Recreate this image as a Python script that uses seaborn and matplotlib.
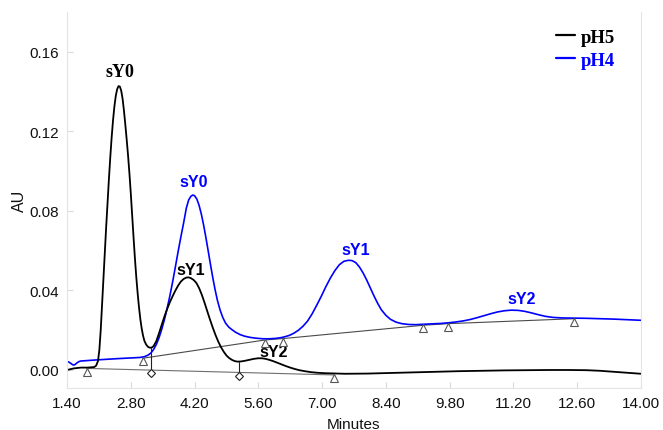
import numpy as np
import pandas as pd
import matplotlib
matplotlib.use("Agg")
import matplotlib.pyplot as plt
import seaborn as sns
from matplotlib.ticker import MultipleLocator, FormatStrFormatter, FixedLocator
from matplotlib.transforms import offset_copy
from matplotlib.lines import Line2D

# ---------------- data ----------------
ph5_min = [1.40, 1.55, 1.70, 1.85, 2.00, 2.04, 2.08, 2.11, 2.14, 2.17, 2.20, 2.23, 2.26,
           2.29, 2.32, 2.35, 2.38, 2.41, 2.44, 2.47, 2.50, 2.53, 2.56, 2.59, 2.62, 2.65,
           2.68, 2.71, 2.74, 2.77, 2.80, 2.83, 2.86, 2.89, 2.92, 2.95, 2.98, 3.01, 3.04,
           3.07, 3.10, 3.14, 3.18, 3.22, 3.26, 3.30, 3.36, 3.42, 3.48, 3.54, 3.60, 3.66,
           3.72, 3.78, 3.84, 3.90, 3.96, 4.02, 4.07, 4.12, 4.18, 4.24, 4.30, 4.36, 4.42,
           4.48, 4.54, 4.60, 4.66, 4.72, 4.78, 4.84, 4.90, 4.96, 5.02, 5.08, 5.14, 5.22,
           5.30, 5.40, 5.50, 5.60, 5.68, 5.76, 5.84, 5.92, 6.00, 6.10, 6.20, 6.30, 6.40,
           6.50, 6.62, 6.76, 6.90, 7.05, 7.20, 7.50, 8.00, 8.50, 9.00, 9.50, 10.00, 10.50,
           11.00, 11.50, 12.00, 12.40, 12.80, 13.10, 13.40, 13.70, 14.00]
ph5_au = [0.0000, 0.0008, 0.0012, 0.0012, 0.0015, 0.0022, 0.0045, 0.0100, 0.0200, 0.0330,
          0.0460, 0.0590, 0.0720, 0.0840, 0.0960, 0.1070, 0.1170, 0.1255, 0.1325, 0.1378,
          0.1412, 0.1428, 0.1426, 0.1405, 0.1365, 0.1305, 0.1235, 0.1160, 0.1080, 0.0990,
          0.0890, 0.0780, 0.0670, 0.0565, 0.0470, 0.0388, 0.0316, 0.0256, 0.0208, 0.0172,
          0.0146, 0.0127, 0.0116, 0.0112, 0.0113, 0.0120, 0.0145, 0.0185, 0.0228, 0.0270,
          0.0308, 0.0342, 0.0372, 0.0400, 0.0425, 0.0445, 0.0458, 0.0465, 0.0466, 0.0462,
          0.0453, 0.0438, 0.0412, 0.0378, 0.0338, 0.0295, 0.0253, 0.0213, 0.0176, 0.0143,
          0.0115, 0.0092, 0.0073, 0.0060, 0.0051, 0.0045, 0.0042, 0.0043, 0.0046, 0.0051,
          0.0056, 0.0059, 0.0059, 0.0056, 0.0051, 0.0045, 0.0038, 0.0029, 0.0020, 0.0012,
          0.0005, -0.0001, -0.0006, -0.0011, -0.0014, -0.0016, -0.0017, -0.0019, -0.0018,
          -0.0015, -0.0012, -0.0009, -0.0006, -0.0004, -0.0002, -0.0001, 0.0000, 0.0000,
          -0.0001, -0.0004, -0.0009, -0.0014, -0.0019]

ph4_min = [1.40, 1.44, 1.48, 1.52, 1.55, 1.58, 1.62, 1.66, 1.70, 2.00, 2.50, 3.00, 3.10,
           3.18, 3.24, 3.30, 3.36, 3.42, 3.48, 3.54, 3.60, 3.66, 3.72, 3.78, 3.84, 3.90,
           3.96, 4.02, 4.07, 4.12, 4.16, 4.20, 4.25, 4.30, 4.35, 4.40, 4.45, 4.50, 4.55,
           4.60, 4.65, 4.70, 4.76, 4.82, 4.88, 4.95, 5.02, 5.10, 5.20, 5.30, 5.42, 5.55,
           5.70, 5.85, 5.98, 6.08, 6.18, 6.28, 6.38, 6.48, 6.58, 6.68, 6.78, 6.88, 6.98,
           7.08, 7.18, 7.28, 7.38, 7.48, 7.58, 7.66, 7.74, 7.82, 7.90, 7.98, 8.06, 8.14,
           8.22, 8.30, 8.40, 8.50, 8.62, 8.75, 8.90, 9.05, 9.22, 9.40, 9.60, 9.80, 9.95,
           10.10, 10.25, 10.40, 10.55, 10.70, 10.85, 11.00, 11.15, 11.30, 11.45, 11.60,
           11.75, 11.90, 12.05, 12.25, 12.50, 12.80, 13.10, 13.40, 13.70, 14.00]
ph4_au = [0.0042, 0.0040, 0.0034, 0.0027, 0.0025, 0.0028, 0.0036, 0.0042, 0.0045, 0.0050,
          0.0057, 0.0063, 0.0067, 0.0075, 0.0085, 0.0103, 0.0128, 0.0162, 0.0205, 0.0255,
          0.0312, 0.0375, 0.0445, 0.0520, 0.0597, 0.0670, 0.0740, 0.0815, 0.0855, 0.0874,
          0.0880, 0.0877, 0.0860, 0.0828, 0.0783, 0.0728, 0.0665, 0.0598, 0.0530, 0.0465,
          0.0405, 0.0352, 0.0302, 0.0264, 0.0236, 0.0216, 0.0203, 0.0190, 0.0178, 0.0170,
          0.0164, 0.0160, 0.0157, 0.0157, 0.0159, 0.0162, 0.0167, 0.0174, 0.0185, 0.0200,
          0.0220, 0.0246, 0.0282, 0.0325, 0.0370, 0.0418, 0.0462, 0.0500, 0.0530, 0.0547,
          0.0552, 0.0550, 0.0540, 0.0518, 0.0488, 0.0452, 0.0412, 0.0372, 0.0335, 0.0303,
          0.0275, 0.0255, 0.0241, 0.0233, 0.0229, 0.0228, 0.0230, 0.0232, 0.0234, 0.0238,
          0.0242, 0.0247, 0.0254, 0.0263, 0.0273, 0.0283, 0.0292, 0.0298, 0.0301, 0.0300,
          0.0295, 0.0287, 0.0278, 0.0270, 0.0265, 0.0262, 0.0261, 0.0260, 0.0258, 0.0256,
          0.0253, 0.0250]

ph5_base_min = [1.83, 7.27]
ph5_base_au = [0.0008, -0.0025]
ph4_base_min = [3.06, 5.75, 6.14, 9.22, 9.76, 12.53]
ph4_base_au = [0.0059, 0.0151, 0.0158, 0.0225, 0.0233, 0.0258]
drop_min = [3.24, 5.17]

x_ticks = [1.40, 2.80, 4.20, 5.60, 7.00, 8.40, 9.80, 11.20, 12.60, 14.00]
y_ticks = [0.00, 0.04, 0.08, 0.12, 0.16]

ph5_labels = ["sY0", "sY1", "sY2"]
ph5_label_pos = [(2.565, 0.150), (4.12, 0.0508), (5.936, 0.0092)]
ph4_labels = ["sY0", "sY1", "sY2"]
ph4_label_pos = [(4.177, 0.0946), (7.733, 0.0606), (11.375, 0.0361)]

series_names = ["pH5", "pH4"]
BLACK = "#000000"
BLUE = "#0000ff"

# ---------------- figure ----------------
sns.set_theme(style="white")
plt.rcParams["font.family"] = ["Liberation Sans", "DejaVu Sans"]

fig = plt.figure(figsize=(6.63, 4.31), dpi=100)
ax = fig.add_axes([67 / 663, 1 - 389 / 431, 574 / 663, 376 / 431])

df5 = pd.DataFrame({"Minutes": ph5_min, "AU": ph5_au})
df4 = pd.DataFrame({"Minutes": ph4_min, "AU": ph4_au})
b5 = pd.DataFrame({"Minutes": ph5_base_min, "AU": ph5_base_au})
b4 = pd.DataFrame({"Minutes": ph4_base_min, "AU": ph4_base_au})

sns.lineplot(data=b5, x="Minutes", y="AU", ax=ax, color="#6e6e6e", lw=0.8, estimator=None)
sns.lineplot(data=b4, x="Minutes", y="AU", ax=ax, color="#4a4a4a", lw=0.8, estimator=None)
sns.lineplot(data=df4, x="Minutes", y="AU", ax=ax, color=BLUE, lw=1.2, estimator=None)
sns.lineplot(data=df5, x="Minutes", y="AU", ax=ax, color=BLACK, lw=1.3, estimator=None)

# drop lines with diamonds
drop_top = np.interp(drop_min, ph5_min, ph5_au)
drop_bot = np.interp(drop_min, ph5_base_min, ph5_base_au)
for xm, yt, yb in zip(drop_min, drop_top, drop_bot):
    ax.plot([xm, xm], [yt, yb], color="#202020", lw=0.8)
below = offset_copy(ax.transData, fig=fig, x=0, y=-3.2, units="dots")
ax.plot(drop_min, drop_bot, ls="none", marker="D", ms=4.2, mfc="white",
        mec="#202020", mew=0.8, transform=below, zorder=5)

# baseline triangles
ax.plot(ph5_base_min, ph5_base_au, ls="none", marker="^", ms=5.5, mfc="white",
        mec="#555555", mew=0.8, transform=below, zorder=5)
ax.plot(ph4_base_min, ph4_base_au, ls="none", marker="^", ms=5.5, mfc="white",
        mec="#555555", mew=0.8, transform=below, zorder=5)

# peak labels
for i, (lab, (lx, ly)) in enumerate(zip(ph5_labels, ph5_label_pos)):
    fam = ["Liberation Serif"] if i == 0 else ["Liberation Sans"]
    size = 13 if i == 0 else 11.5
    ax.text(lx, ly, lab, color=BLACK, fontsize=size, fontweight="bold",
            family=fam, ha="center", va="center")
for lab, (lx, ly) in zip(ph4_labels, ph4_label_pos):
    ax.text(lx, ly, lab, color=BLUE, fontsize=11.5, fontweight="bold",
            family=["Liberation Sans"], ha="center", va="center")

# axes
ax.set_xlim(1.40, 14.00)
ax.set_ylim(-0.00906, 0.1801)
ax.xaxis.set_major_locator(FixedLocator(x_ticks))
ax.yaxis.set_major_locator(FixedLocator(y_ticks))
ax.xaxis.set_major_formatter(FormatStrFormatter("%.2f"))
ax.yaxis.set_major_formatter(FormatStrFormatter("%.2f"))
ax.xaxis.set_minor_locator(MultipleLocator(0.35))
ax.yaxis.set_minor_locator(MultipleLocator(0.01))
ax.tick_params(axis="both", which="both", direction="in", color="#d9d9d9",
               labelsize=11, labelcolor="#111111", pad=6)
ax.tick_params(which="major", length=4, width=0.8)
ax.tick_params(which="minor", length=3, width=0.6)
ax.tick_params(axis="x", bottom=True, top=False)
ax.tick_params(axis="y", left=True, right=False)
for side in ["left", "bottom", "right"]:
    ax.spines[side].set_color("#e4e4e4")
    ax.spines[side].set_linewidth(0.8)
ax.spines["top"].set_visible(False)
ax.set_xlabel("Minutes", fontsize=11, color="#111111", labelpad=5)
ax.set_ylabel("AU", fontsize=11.5, color="#111111", labelpad=1.5)

handles = [Line2D([], [], color=BLACK, lw=1.6), Line2D([], [], color=BLUE, lw=1.6)]
leg = ax.legend(handles, series_names, loc="upper left", bbox_to_anchor=(0.823, 1.0),
                frameon=False, handlelength=1.0, handletextpad=0.3, labelspacing=0.3,
                prop={"family": "Liberation Serif", "weight": "bold", "size": 13.5})
for t, c in zip(leg.get_texts(), [BLACK, BLUE]):
    t.set_color(c)

fig.savefig("out.png", dpi=100)
